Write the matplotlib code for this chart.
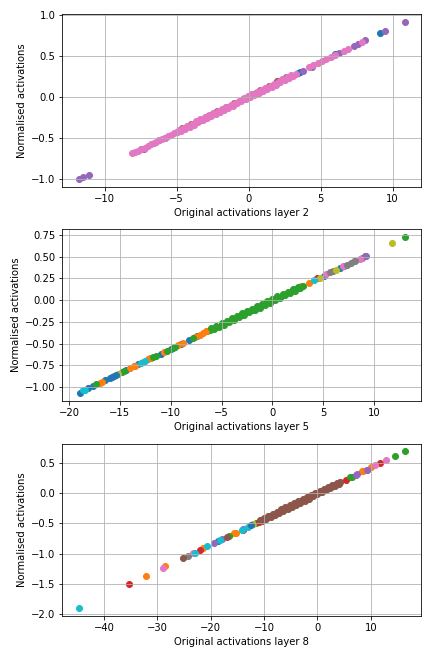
import matplotlib
matplotlib.use('Agg')
import matplotlib.pyplot as plt

# Points, one list of (original, normalised) pairs per neuron.
# Drawing order matters: later neurons sit on top and take the next colour in the cycle.

layer2 = [
    [(-6.2, -0.53), (-5.8, -0.50), (-4.7, -0.41), (0.5, 0.05), (3.4, 0.29), (3.6, 0.31), (6.0, 0.52), (9.1, 0.78)],
    [(-2.0, -0.17), (0.5, 0.04), (1.5, 0.13)],
    [(-1.0, -0.09), (2.0, 0.17)],
    [(-3.0, -0.26), (1.0, 0.09)],
    [(-11.75, -1.0), (-11.5, -0.98), (-11.1, -0.95), (-7.5, -0.64), (-7.3, -0.63), (-5.0, -0.43),
     (3.8, 0.32), (4.4, 0.37), (6.3, 0.54), (7.3, 0.62), (7.6, 0.65), (8.1, 0.70), (9.5, 0.81), (10.85, 0.92)],
    [(-4.6, -0.38), (-4.0, -0.33), (-3.4, -0.28), (-2.8, -0.23), (-2.2, -0.17), (-1.6, -0.12), (-1.0, -0.07),
     (-0.4, -0.02), (0.2, 0.03), (0.8, 0.08), (1.4, 0.13), (2.0, 0.19), (2.6, 0.24)],
    [(-8.1, -0.69), (-7.9, -0.675), (-7.7, -0.66), (-7.5, -0.64), (-7.2, -0.62), (-7.0, -0.60), (-6.8, -0.58),
     (-6.6, -0.56), (-6.4, -0.55), (-6.2, -0.53), (-6.0, -0.51), (-5.8, -0.50), (-5.6, -0.48), (-5.4, -0.46),
     (-5.2, -0.445), (-5.0, -0.43),
     (-4.85, -0.403), (-4.7, -0.414), (-4.55, -0.377), (-4.4, -0.388), (-4.25, -0.351), (-4.1, -0.363),
     (-3.95, -0.326), (-3.8, -0.337), (-3.65, -0.300), (-3.5, -0.311), (-3.35, -0.274), (-3.2, -0.286),
     (-3.05, -0.249), (-2.9, -0.260), (-2.75, -0.223), (-2.6, -0.234), (-2.45, -0.197), (-2.3, -0.209),
     (-2.15, -0.172), (-2.0, -0.183), (-1.85, -0.146), (-1.7, -0.157), (-1.55, -0.121), (-1.4, -0.132),
     (-1.25, -0.095), (-1.1, -0.106), (-0.95, -0.069), (-0.8, -0.080), (-0.65, -0.044), (-0.5, -0.055),
     (-0.35, -0.018), (-0.2, -0.029), (-0.05, 0.008), (0.1, -0.003), (0.25, 0.033), (0.4, 0.022),
     (0.55, 0.059), (0.7, 0.048), (0.85, 0.085), (1.0, 0.074), (1.15, 0.110), (1.3, 0.099),
     (1.45, 0.136), (1.6, 0.125), (1.75, 0.162), (1.9, 0.150), (2.05, 0.187), (2.2, 0.176),
     (2.35, 0.213), (2.5, 0.202), (2.65, 0.239), (2.8, 0.227), (2.95, 0.264), (3.1, 0.253), (3.3, 0.282),
     (4.2, 0.36), (4.5, 0.385), (4.8, 0.41), (5.1, 0.435), (5.4, 0.46), (5.7, 0.49), (6.0, 0.51),
     (6.6, 0.56), (6.9, 0.59), (7.9, 0.675)],
]

layer5 = [
    [(-18.95, -1.07), (-18.1, -1.01), (-17.6, -0.99), (-16.5, -0.92), (-16.0, -0.90), (-15.8, -0.88),
     (-15.6, -0.87), (-14.4, -0.81), (-13.2, -0.74), (-11.0, -0.62), (-10.0, -0.56), (-9.0, -0.50),
     (-8.2, -0.46), (-7.4, -0.41), (5.07, 0.28), (6.65, 0.37)],
    [(-17.0, -0.95), (-16.8, -0.94), (-14.0, -0.78), (-13.5, -0.76), (-12.2, -0.68), (-12.0, -0.67),
     (-11.9, -0.67), (-10.7, -0.60), (-9.3, -0.52), (-8.8, -0.49), (-7.6, -0.43), (-7.1, -0.40),
     (-6.8, -0.38), (3.6, 0.20)],
    [(-17.3, -0.97), (-14.8, -0.83), (-14.6, -0.82), (-11.7, -0.66), (-11.4, -0.64), (-10.4, -0.58),
     (-9.8, -0.55), (-9.6, -0.54), (-7.8, -0.44), (-6.4, -0.36), (-6.1, -0.34), (9.1, 0.51), (13.05, 0.73)],
    [(2.5, 0.14), (4.4, 0.25)],
    [(7.0, 0.39), (8.8, 0.49), (9.2, 0.51)],
    [(-3.0, -0.17), (1.0, 0.06)],
    [(-12.7, -0.71), (5.3, 0.30), (6.9, 0.39), (8.0, 0.45), (8.6, 0.48)],
    [(5.7, 0.32), (6.0, 0.34), (7.3, 0.41), (7.7, 0.43), (8.1, 0.45)],
    [(-15.2, -0.85), (4.7, 0.26), (6.3, 0.35), (11.8, 0.66)],
    [(-18.6, -1.04), (-18.4, -1.03), (-12.9, -0.72), (-12.5, -0.70), (4.1, 0.23)],
    [(-15.4, -0.86), (-5.0, -0.28), (-2.0, -0.11)],
    [(-13.6, -0.76), (-6.5, -0.36), (-4.0, -0.22), (2.8, 0.16)],
    [(-6.0, -0.321), (-5.75, -0.337), (-5.5, -0.293), (-5.25, -0.309), (-5.0, -0.265), (-4.75, -0.281),
     (-4.5, -0.237), (-4.25, -0.253), (-4.0, -0.209), (-3.75, -0.225), (-3.5, -0.181), (-3.25, -0.197),
     (-3.0, -0.153), (-2.75, -0.169), (-2.5, -0.125), (-2.25, -0.141), (-2.0, -0.097), (-1.75, -0.113),
     (-1.5, -0.069), (-1.25, -0.085), (-1.0, -0.041), (-0.75, -0.057), (-0.5, -0.013), (-0.25, -0.029),
     (0.0, 0.015), (0.25, -0.001), (0.5, 0.043), (0.75, 0.027), (1.0, 0.071), (1.25, 0.055),
     (1.5, 0.099), (1.75, 0.083), (2.0, 0.127), (2.25, 0.111), (2.5, 0.155), (2.75, 0.139), (3.0, 0.168)],
]

layer8 = [
    [(-18.6, -0.79), (-9.0, -0.38), (-3.0, -0.13), (2.5, 0.11)],
    [(-32.1, -1.36), (-28.6, -1.21), (-21.5, -0.91), (-15.6, -0.66), (-15.2, -0.65), (4.3, 0.18), (8.4, 0.36),
     (10.0, 0.43)],
    [(-16.6, -0.71), (-11.6, -0.49), (6.4, 0.27), (14.6, 0.62), (16.4, 0.70)],
    [(-35.25, -1.50), (-22.0, -0.94), (-14.0, -0.60), (5.25, 0.22), (11.75, 0.50)],
    [(-19.4, -0.82), (-17.9, -0.76), (-13.9, -0.59), (7.4, 0.31), (9.25, 0.39)],
    [(-2.0, -0.09)],
    [(-28.9, -1.23), (-23.4, -0.99), (10.8, 0.46), (12.9, 0.55)],
    [(-24.2, -1.03), (-6.5, -0.28)],
    [(-12.0, -0.51), (3.0, 0.13)],
    [(-44.6, -1.90), (-23.0, -0.98), (-20.7, -0.88), (-18.3, -0.78), (-14.2, -0.60), (-13.0, -0.55)],
    [(-12.4, -0.53), (-4.0, -0.17), (0.5, 0.02)],
    [(-10.5, -0.45), (-1.0, -0.04), (3.8, 0.16), (8.6, 0.37)],
    [(-7.0, -0.30), (6.0, 0.26)],
    [(-11.0, -0.47), (-5.5, -0.24)],
    [(-8.3, -0.35), (-5.4, -0.23), (-4.8, -0.21), (7.2, 0.30), (9.3, 0.39)],
    [(-25.1, -1.07), (-17.0, -0.72),
     (-10.8, -0.439), (-10.4, -0.462), (-10.0, -0.405), (-9.6, -0.428), (-9.2, -0.371), (-8.8, -0.394),
     (-8.4, -0.337), (-8.0, -0.360), (-7.6, -0.303), (-7.2, -0.326), (-6.8, -0.269), (-6.4, -0.292),
     (-6.0, -0.235), (-5.6, -0.258), (-5.2, -0.201), (-4.8, -0.224), (-4.4, -0.167), (-4.0, -0.190),
     (-3.6, -0.133), (-3.2, -0.156), (-2.8, -0.099), (-2.4, -0.122), (-2.0, -0.065), (-1.6, -0.088),
     (-1.2, -0.031), (-0.8, -0.054), (-0.4, 0.003), (0.0, -0.02), (0.4, 0.037), (0.8, 0.014),
     (1.2, 0.071), (1.6, 0.048), (2.0, 0.105), (2.4, 0.082), (2.8, 0.139), (3.2, 0.116), (3.6, 0.173),
     (4.0, 0.150), (4.2, 0.18)],
]

layers = [(2, layer2), (5, layer5), (8, layer8)]
xlims = [(-12.94, 11.99), (-20.66, 14.65), (-47.8, 19.45)]
ylims = [(-1.094, 1.012), (-1.165, 0.823), (-2.028, 0.82)]

fig, axes = plt.subplots(3, 1, figsize=(431 / 72, 655 / 72), dpi=72)
fig.subplots_adjust(left=0.1446, right=0.9775, top=0.9786, bottom=0.0595, hspace=0.245)

for ax, (num, neurons), xl, yl in zip(axes, layers, xlims, ylims):
    for pts in neurons:
        xs = [p[0] for p in pts]
        ys = [p[1] for p in pts]
        ax.scatter(xs, ys)
    ax.set_xlabel("Original activations layer %d" % num)
    ax.set_ylabel("Normalised activations")
    ax.set_xlim(xl)
    ax.set_ylim(yl)
    ax.grid(True)

plt.savefig('out.png', dpi=72)
